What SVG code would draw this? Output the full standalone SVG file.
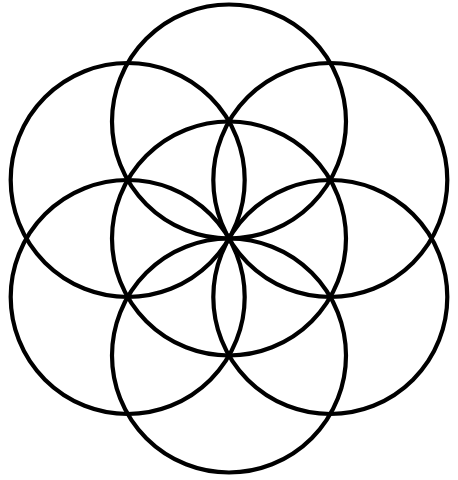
<svg xmlns="http://www.w3.org/2000/svg" width="458" height="480" viewBox="0 0 458 480">
<style>.c{fill:none;stroke:#000;stroke-width:4.2}</style>
<rect width="458" height="480" fill="#fff"/>
<g id="center"><circle class="c" cx="229" cy="238.5" r="117"/></g>
<g id="top"><circle class="c" cx="229" cy="121.5" r="117"/></g>
<g id="bottom"><circle class="c" cx="229" cy="355.5" r="117"/></g>
<g id="top-left"><circle class="c" cx="127.7" cy="180" r="117"/></g>
<g id="top-right"><circle class="c" cx="330.3" cy="180" r="117"/></g>
<g id="bottom-left"><circle class="c" cx="127.7" cy="297" r="117"/></g>
<g id="bottom-right"><circle class="c" cx="330.3" cy="297" r="117"/></g>
</svg>
